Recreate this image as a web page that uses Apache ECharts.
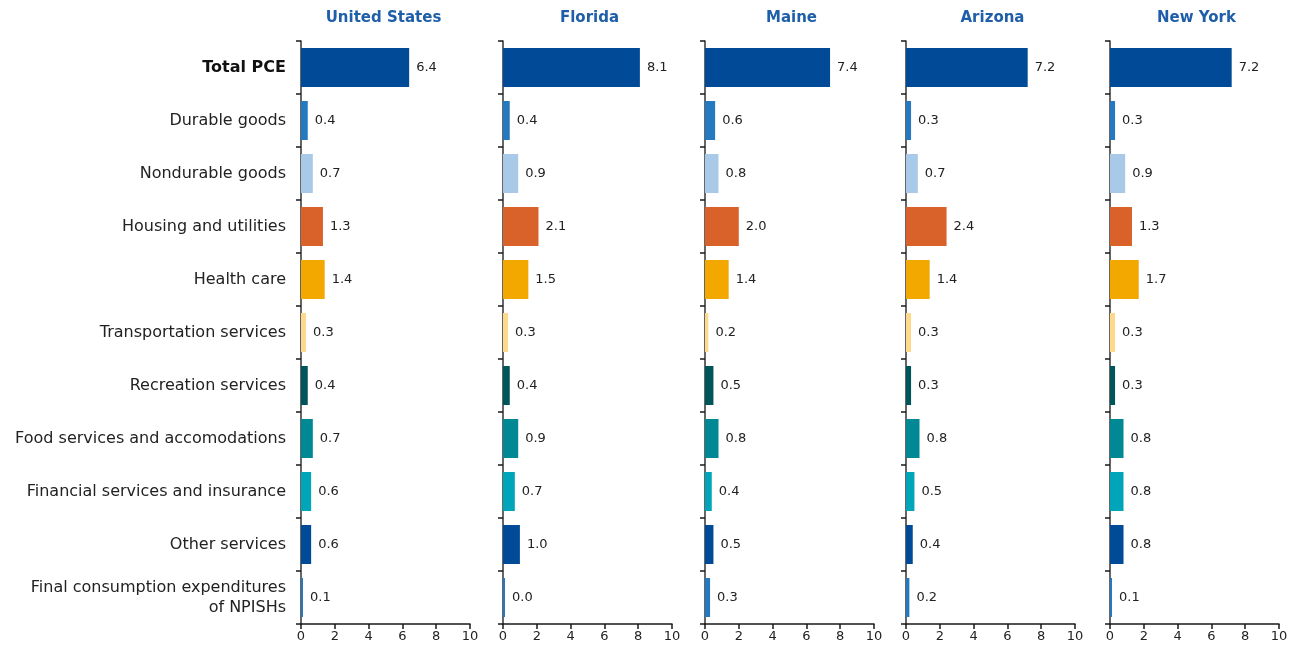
<!DOCTYPE html>
<html>
<head>
<meta charset="utf-8">
<script src="https://cdn.jsdelivr.net/npm/echarts@6/dist/echarts.min.js"></script>
<style>
  html, body { margin: 0; padding: 0; background: #fff; }
  #chart { width: 1294px; height: 659px; }
</style>
</head>
<body>
<div id="chart"></div>
<script>
// PCE contribution by component, per region
const categories = [
  'Total PCE',
  'Durable goods',
  'Nondurable goods',
  'Housing and utilities',
  'Health care',
  'Transportation services',
  'Recreation services',
  'Food services and accomodations',
  'Financial services and insurance',
  'Other services',
  'Final consumption expenditures\nof NPISHs'
];

const regions = ['United States', 'Florida', 'Maine', 'Arizona', 'New York'];

const unitedStates = [6.4, 0.4, 0.7, 1.3, 1.4, 0.3, 0.4, 0.7, 0.6, 0.6, 0.1];
const florida      = [8.1, 0.4, 0.9, 2.1, 1.5, 0.3, 0.4, 0.9, 0.7, 1.0, 0.0];
const maine        = [7.4, 0.6, 0.8, 2.0, 1.4, 0.2, 0.5, 0.8, 0.4, 0.5, 0.3];
const arizona      = [7.2, 0.3, 0.7, 2.4, 1.4, 0.3, 0.3, 0.8, 0.5, 0.4, 0.2];
const newYork      = [7.2, 0.3, 0.9, 1.3, 1.7, 0.3, 0.3, 0.8, 0.8, 0.8, 0.1];

const xTicks = [0, 2, 4, 6, 8, 10];

const seriesValues = [unitedStates, florida, maine, arizona, newYork];

// one colour per component
const componentColors = [
  '#004a97', '#2479c0', '#a9c9e8', '#d9622a', '#f3a800', '#fdd98d',
  '#00555a', '#008994', '#00a5b9', '#004a97', '#2479c0'
];

const FONT = '"DejaVu Sans"';
const gridLefts = [301, 503, 705, 906, 1110];
const gridWidth = 169;
const gridTop = 41;
const gridHeight = 583;

const chart = echarts.init(document.getElementById('chart'), null, { renderer: 'canvas' });

const grids = [], xAxes = [], yAxes = [], series = [], titles = [];

regions.forEach((name, i) => {
  grids.push({ left: gridLefts[i], top: gridTop, width: gridWidth, height: gridHeight, containLabel: false });
  titles.push({
    text: name,
    left: gridLefts[i] + gridWidth / 2 - (i === 0 ? 7 : 3),
    top: 6,
    textAlign: 'center',
    textStyle: { fontFamily: FONT, fontWeight: 'bold', fontSize: 15, color: '#1f5ea8' }
  });
  xAxes.push({
    type: 'value', gridIndex: i, min: xTicks[0], max: xTicks[xTicks.length - 1], interval: 2,
    axisLine: { show: true, lineStyle: { color: '#1a1a1a', width: 1.5 } },
    axisTick: { show: true, length: 5, lineStyle: { color: '#1a1a1a', width: 1.5 } },
    axisLabel: { fontFamily: FONT, fontSize: 13, color: '#222', margin: 6 },
    splitLine: { show: false }
  });
  yAxes.push({
    type: 'category', gridIndex: i, data: categories, inverse: true,
    axisLine: { show: true, lineStyle: { color: '#333', width: 1.5 } },
    axisTick: { show: true, length: 5, lineStyle: { color: '#1a1a1a', width: 1.5 } },
    axisLabel: {
      show: i === 0, fontFamily: FONT, fontSize: 16, color: '#222', margin: 15, lineHeight: 20,
      formatter: (v, idx) => idx === 0 ? '{b|' + v + '}' : v,
      rich: { b: { fontFamily: FONT, fontSize: 16, fontWeight: 'bold', color: '#111' } }
    }
  });
  series.push({
    type: 'bar', xAxisIndex: i, yAxisIndex: i, barWidth: 39, barMinHeight: 2,
    data: seriesValues[i].map((v, k) => ({ value: v, itemStyle: { color: componentColors[k] } })),
    label: {
      show: true, position: 'right', distance: 7,
      fontFamily: FONT, fontSize: 13, color: '#222',
      formatter: p => p.value.toFixed(1)
    },
    z: 1
  });
});

chart.setOption({
  animation: false,
  title: titles,
  grid: grids,
  xAxis: xAxes,
  yAxis: yAxes,
  series: series
});
</script>
</body>
</html>
